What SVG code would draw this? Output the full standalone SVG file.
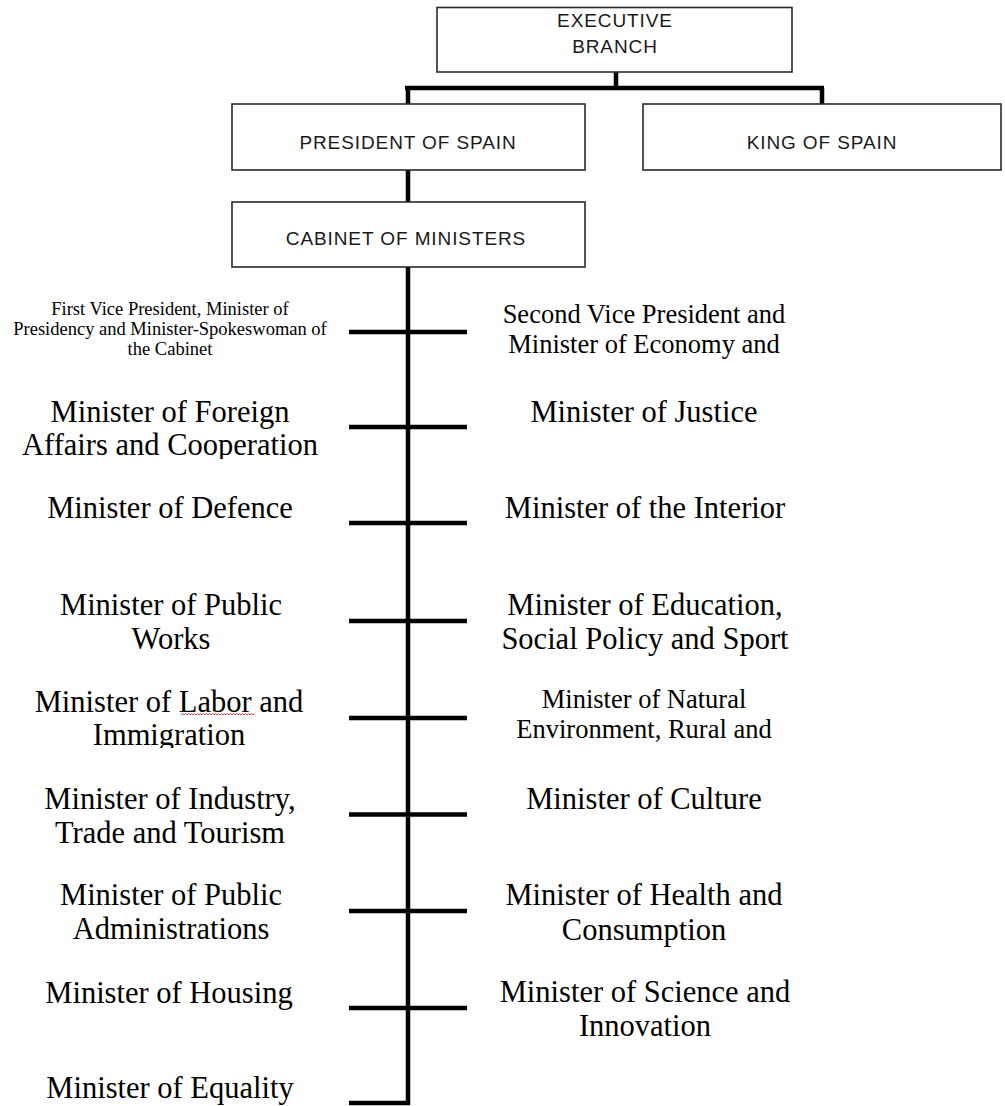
<svg xmlns="http://www.w3.org/2000/svg" width="1005" height="1106" viewBox="0 0 1005 1106">
  <defs>
    <style>
      .box { fill: #ffffff; stroke: #2a2a2a; stroke-width: 1.6; }
      .sans { font-family: "Liberation Sans", Arial, sans-serif; font-size: 19px; letter-spacing: 0.9px; fill: #1a1a1a; text-anchor: middle; }
      .big { font-family: "Liberation Serif", "Times New Roman", serif; font-size: 30.5px; fill: #000; text-anchor: middle; }
      .mid { font-family: "Liberation Serif", "Times New Roman", serif; font-size: 26.5px; fill: #000; text-anchor: middle; }
      .small { font-family: "Liberation Serif", "Times New Roman", serif; font-size: 18.5px; fill: #000; text-anchor: middle; }
      .conn { stroke: #000; stroke-width: 4.5; fill: none; }
    </style>
    <clipPath id="clipForeign"><rect x="0" y="380" width="360" height="79"/></clipPath>
    <clipPath id="clipLabor"><rect x="0" y="680" width="360" height="68"/></clipPath>
  </defs>
  <rect width="1005" height="1106" fill="#ffffff"/>

  <g id="connectors">
    <path class="conn" d="M616 72 V88 M405 88 H824 M408 88 V104 M822 88 V104"/>
    <path class="conn" d="M408 170 V202"/>
    <path class="conn" d="M408 267 V1103 H349"/>
    <path class="conn" d="M349 332 H467 M349 427 H467 M349 523 H467 M349 621 H467 M349 718 H467 M349 814.5 H467 M349 911 H467 M349 1008 H467"/>
  </g>

  <g id="executive-branch">
    <rect class="box" x="437" y="7.5" width="355" height="64.5"/>
    <text class="sans" x="615" y="27.3">EXECUTIVE</text>
    <text class="sans" x="615" y="53.3">BRANCH</text>
  </g>
  <g id="president">
    <rect class="box" x="232" y="104" width="353" height="66"/>
    <text class="sans" x="408" y="149">PRESIDENT OF SPAIN</text>
  </g>
  <g id="king">
    <rect class="box" x="643" y="104" width="358" height="66"/>
    <text class="sans" x="822" y="149">KING OF SPAIN</text>
  </g>
  <g id="cabinet">
    <rect class="box" x="232" y="202" width="353" height="65"/>
    <text class="sans" x="406" y="245">CABINET OF MINISTERS</text>
  </g>

  <g id="first-vice-president">
    <text class="small" x="170" y="315">First Vice President, Minister of</text>
    <text class="small" x="170" y="335">Presidency and Minister-Spokeswoman of</text>
    <text class="small" x="170" y="355">the Cabinet</text>
  </g>
  <g id="second-vice-president">
    <text class="mid" x="644" y="323">Second Vice President and</text>
    <text class="mid" x="644" y="353">Minister of Economy and</text>
  </g>
  <g id="foreign-affairs" clip-path="url(#clipForeign)">
    <text class="big" x="170" y="422">Minister of Foreign</text>
    <text class="big" x="170" y="455">Affairs and Cooperation</text>
  </g>
  <g id="justice">
    <text class="big" x="644" y="422">Minister of Justice</text>
  </g>
  <g id="defence">
    <text class="big" x="170" y="518">Minister of Defence</text>
  </g>
  <g id="interior">
    <text class="big" x="645" y="518">Minister of the Interior</text>
  </g>
  <g id="public-works">
    <text class="big" x="171" y="615">Minister of Public</text>
    <text class="big" x="171" y="649">Works</text>
  </g>
  <g id="education">
    <text class="big" x="645" y="615">Minister of Education,</text>
    <text class="big" x="645" y="649">Social Policy and Sport</text>
  </g>
  <g id="labor">
    <g clip-path="url(#clipLabor)">
      <text class="big" x="169" y="712">Minister of Labor and</text>
      <text class="big" x="169" y="745">Immigration</text>
    </g>
    <path d="M181 715 l1.5 -1.5 l1.5 1.5 l1.5 -1.5 l1.5 1.5 l1.5 -1.5 l1.5 1.5 l1.5 -1.5 l1.5 1.5 l1.5 -1.5 l1.5 1.5 l1.5 -1.5 l1.5 1.5 l1.5 -1.5 l1.5 1.5 l1.5 -1.5 l1.5 1.5 l1.5 -1.5 l1.5 1.5 l1.5 -1.5 l1.5 1.5 l1.5 -1.5 l1.5 1.5 l1.5 -1.5 l1.5 1.5 l1.5 -1.5 l1.5 1.5 l1.5 -1.5 l1.5 1.5 l1.5 -1.5 l1.5 1.5 l1.5 -1.5 l1.5 1.5 l1.5 -1.5 l1.5 1.5 l1.5 -1.5 l1.5 1.5 l1.5 -1.5 l1.5 1.5 l1.5 -1.5 l1.5 1.5 l1.5 -1.5 l1.5 1.5 l1.5 -1.5 l1.5 1.5 l1.5 -1.5 l1.5 1.5 l1.5 -1.5 l1.5 1.5 l1.5 -1.5" fill="none" stroke="#e03030" stroke-width="0.9"/>
  </g>
  <g id="natural-environment">
    <text class="mid" x="644" y="708">Minister of Natural</text>
    <text class="mid" x="644" y="738">Environment, Rural and</text>
  </g>
  <g id="industry">
    <text class="big" x="170" y="809">Minister of Industry,</text>
    <text class="big" x="170" y="843">Trade and Tourism</text>
  </g>
  <g id="culture">
    <text class="big" x="644" y="809">Minister of Culture</text>
  </g>
  <g id="public-administrations">
    <text class="big" x="171" y="905">Minister of Public</text>
    <text class="big" x="171" y="939">Administrations</text>
  </g>
  <g id="health">
    <text class="big" x="644" y="905">Minister of Health and</text>
    <text class="big" x="644" y="940">Consumption</text>
  </g>
  <g id="housing">
    <text class="big" x="169" y="1003">Minister of Housing</text>
  </g>
  <g id="science">
    <text class="big" x="645" y="1002">Minister of Science and</text>
    <text class="big" x="645" y="1036">Innovation</text>
  </g>
  <g id="equality">
    <text class="big" x="170" y="1098">Minister of Equality</text>
  </g>
</svg>
